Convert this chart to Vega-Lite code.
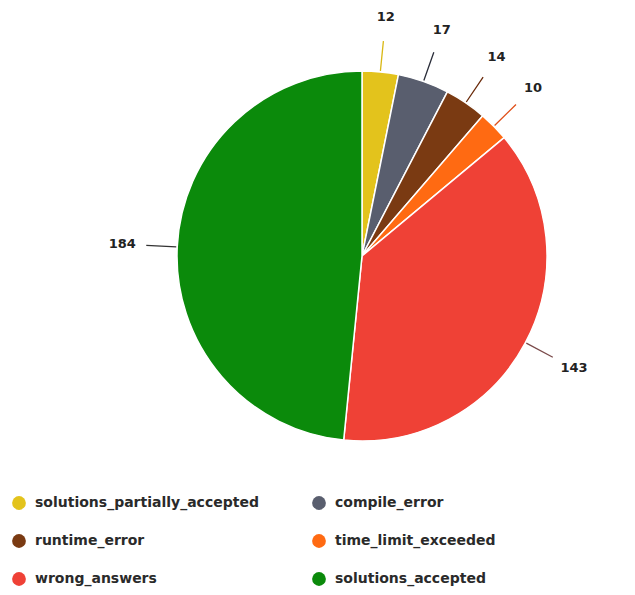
{
  "$schema": "https://vega.github.io/schema/vega-lite/v6.json",
  "width": 400,
  "height": 400,
  "autosize": "none",
  "padding": {"left": 162, "top": 56, "right": 73, "bottom": 139},
  "background": "white",
  "data": {
    "values": [
      {"category": "solutions_partially_accepted", "count": 12, "k": 1},
      {"category": "compile_error", "count": 17, "k": 2},
      {"category": "runtime_error", "count": 14, "k": 3},
      {"category": "time_limit_exceeded", "count": 10, "k": 4},
      {"category": "wrong_answers", "count": 143, "k": 5},
      {"category": "solutions_accepted", "count": 184, "k": 6}
    ]
  },
  "encoding": {
    "theta": {"field": "count", "type": "quantitative", "stack": true},
    "order": {"field": "k", "type": "quantitative"}
  },
  "layer": [
    {
      "mark": {"type": "arc", "outerRadius": 185, "stroke": "white", "strokeWidth": 1.5},
      "encoding": {
        "color": {
          "field": "category", "type": "nominal",
          "scale": {
            "domain": ["solutions_partially_accepted", "compile_error", "runtime_error", "time_limit_exceeded", "wrong_answers", "solutions_accepted"],
            "range": ["#e3c31c", "#595e6e", "#7a3a12", "#ff6a12", "#ef4136", "#0b8a0b"]
          },
          "legend": {
            "title": null,
            "orient": "none",
            "legendX": -150,
            "legendY": 440,
            "direction": "horizontal",
            "columns": 2,
            "symbolType": "circle",
            "symbolSize": 190,
            "symbolStrokeWidth": 0,
            "labelFont": "DejaVu Sans",
            "labelFontWeight": "bold",
            "labelFontSize": 14,
            "labelColor": "#2a2a2a",
            "labelOffset": 9,
            "rowPadding": 24,
            "columnPadding": 53,
            "labelLimit": 400
          }
        }
      }
    },
    {
      "mark": {"type": "arc", "innerRadius": 186, "outerRadius": 216, "padAngle": 3, "strokeWidth": 1.3, "fillOpacity": 0},
      "encoding": {
        "stroke": {
          "field": "category", "type": "nominal", "legend": null,
          "scale": {
            "domain": ["solutions_partially_accepted", "compile_error", "runtime_error", "time_limit_exceeded", "wrong_answers", "solutions_accepted"],
            "range": ["#d9b814", "#2a2d3a", "#6a2a0a", "#e0501a", "#7a4a4a", "#333333"]
          }
        }
      }
    },
    {
      "mark": {"type": "text", "radius": 240, "font": "DejaVu Sans", "fontWeight": "bold", "fontSize": 13, "fill": "#222222"},
      "encoding": {
        "text": {"field": "count", "type": "quantitative"}
      }
    }
  ],
  "resolve": {"legend": {"stroke": "independent", "color": "independent"}}
}
